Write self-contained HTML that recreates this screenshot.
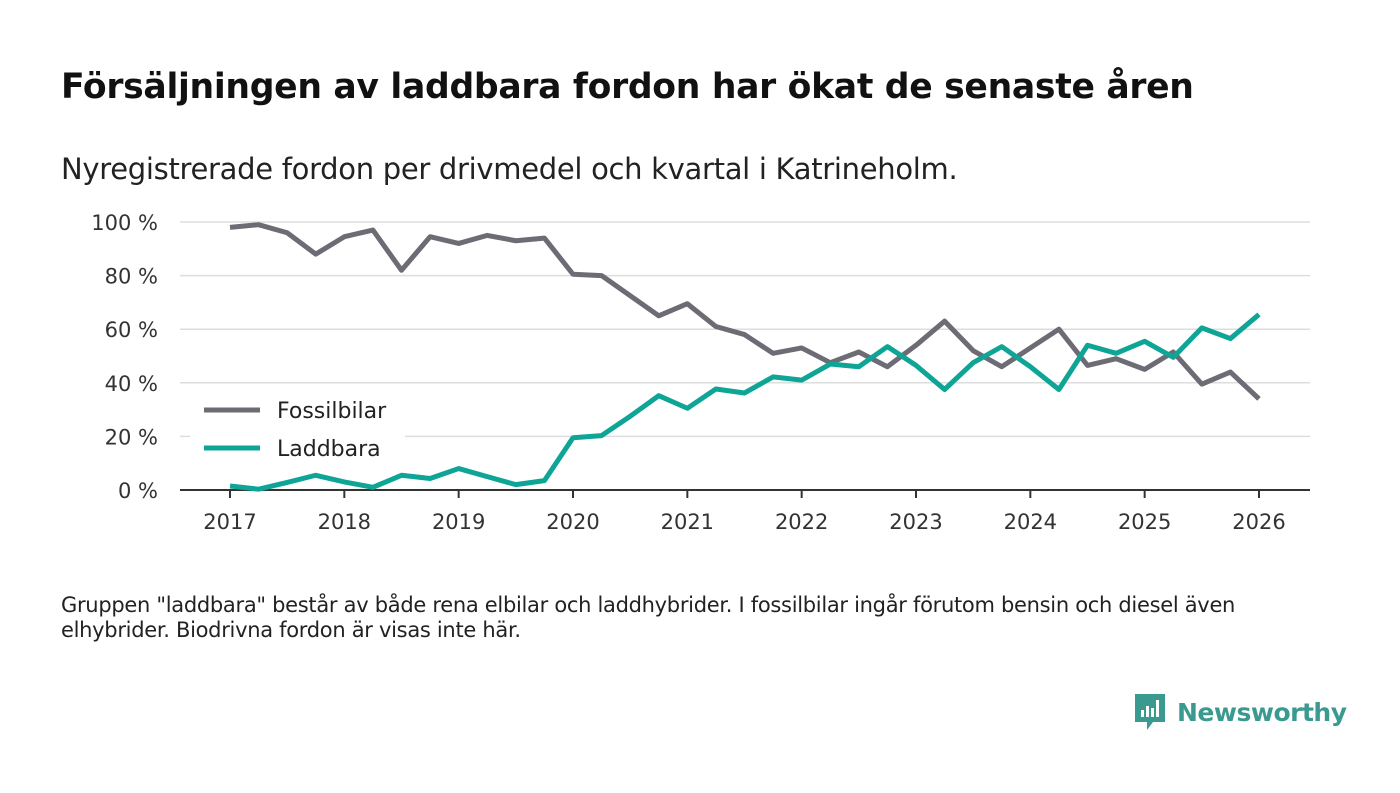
<!DOCTYPE html>
<html><head><meta charset="utf-8"><style>
body{margin:0;background:#fff;font-family:"DejaVu Sans","Liberation Sans",sans-serif;}
#wrap{position:relative;width:1400px;height:793px;overflow:hidden;}
h1{position:absolute;left:61px;top:67px;margin:0;font-size:34.6px;font-weight:bold;color:#111;font-family:"DejaVu Sans","Liberation Sans",sans-serif;letter-spacing:-0.3px}
.sub{position:absolute;left:61px;top:152px;font-size:29px;color:#222;letter-spacing:-0.3px}
.note{position:absolute;left:61px;top:593px;font-size:21px;color:#222;line-height:25px;width:1240px;letter-spacing:-0.3px}
.logo{position:absolute;left:1133px;top:692px;display:flex;align-items:center;color:#3a9a8f;font-size:25px;font-weight:bold;letter-spacing:-0.5px}
</style></head><body><div id="wrap">
<h1>Försäljningen av laddbara fordon har ökat de senaste åren</h1>
<div class="sub">Nyregistrerade fordon per drivmedel och kvartal i Katrineholm.</div>
<svg id="chart" width="1400" height="793" style="position:absolute;left:0;top:0"></svg>
<div class="note">Gruppen "laddbara" består av både rena elbilar och laddhybrider. I fossilbilar ingår förutom bensin och diesel även elhybrider. Biodrivna fordon är visas inte här.</div>
<div class="logo"><svg width="34" height="40" viewBox="0 0 34 40"><path d="M2 2h30v28H20l-6 8v-8H2z" fill="#3a9a8f"/><rect x="8" y="18" width="3" height="7" fill="#fff"/><rect x="13" y="14" width="3" height="11" fill="#fff"/><rect x="18" y="16" width="3" height="9" fill="#fff"/><rect x="23" y="8" width="3" height="17" fill="#fff"/></svg><span style="margin-left:10px">Newsworthy</span></div>
</div>
<script>
const years=["2017","2018","2019","2020","2021","2022","2023","2024","2025","2026"];
const yTicks=[0,20,40,60,80,100];
const fossil=[98,99,96,88,94.5,97,82,94.5,92,95,93,94,80.5,80,72.5,65,69.5,61,58,51,53,47.5,51.5,46,54,63,52,46,53,60,46.5,49,45,51.5,39.5,44,34];
const ladd=[1.5,0.3,2.8,5.5,3,1,5.5,4.3,8,5,2,3.5,19.5,20.3,27.5,35.2,30.5,37.7,36.2,42.2,41,47,46,53.5,46.5,37.5,47.5,53.5,46,37.5,54,51,55.5,49.5,60.5,56.5,65.5];
const svg=document.getElementById('chart');const NS='http://www.w3.org/2000/svg';
const x=q=>230+q*(1029/36);const y=v=>490-v*2.68;
function mk(t,a){const e=document.createElementNS(NS,t);for(const k in a)e.setAttribute(k,a[k]);svg.appendChild(e);return e;}
yTicks.forEach(v=>{
 if(v>0){const g=mk('line',{x1:180,x2:1310,y1:y(v),y2:y(v),stroke:'#ddd','stroke-width':1.5});
 
 }
 const t=mk('text',{x:158,y:y(v)+8,'text-anchor':'end','font-size':21,fill:'#333','font-family':'DejaVu Sans,Liberation Sans,sans-serif'});t.textContent=v+' %';
 
 
});
const ax=mk('line',{x1:180,x2:1310,y1:490,y2:490,stroke:'#333','stroke-width':2});


years.forEach((yr,i)=>{const xx=x(i*4);
 const tk=mk('line',{x1:xx,x2:xx,y1:490,y2:498,stroke:'#333','stroke-width':2});
 
 
 const t=mk('text',{x:xx,y:529,'text-anchor':'middle','font-size':21,fill:'#333','font-family':'DejaVu Sans,Liberation Sans,sans-serif'});t.textContent=yr;
 
 
});
function line(d,c,n){const p=mk('polyline',{points:d.map((v,i)=>x(i)+','+y(v)).join(' '),fill:'none',stroke:c,'stroke-width':5,'stroke-linejoin':'round'});
 
 }
const bg=mk('rect',{x:190,y:388,width:215,height:80,fill:'#fff'});


line(fossil,'#6d6b73','line-fossilbilar');
line(ladd,'#0ea597','line-laddbara');
[['Fossilbilar','#6d6b73',410],['Laddbara','#0ea597',448]].forEach(([n,c,yy])=>{
 const l=mk('line',{x1:204,x2:260,y1:yy,y2:yy,stroke:c,'stroke-width':5});
 
 
 const t=mk('text',{x:277,y:yy+8,'font-size':22,fill:'#222','font-family':'DejaVu Sans,Liberation Sans,sans-serif'});t.textContent=n;
 
 
});
</script></body></html>
